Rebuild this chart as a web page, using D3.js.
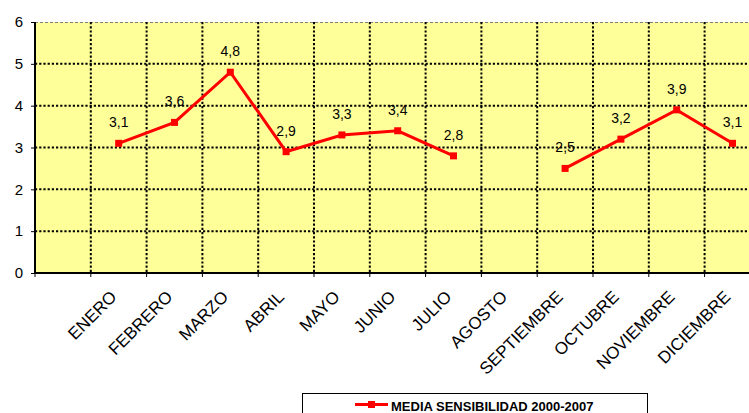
<!DOCTYPE html>
<html>
<head>
<meta charset="utf-8">
<script src="https://cdn.jsdelivr.net/npm/d3@7"></script>
<style>
  body { margin: 0; background: #fff; }
  svg { display: block; font-family: Arial, "Liberation Sans", sans-serif; }
</style>
</head>
<body>
<svg id="chart" width="749" height="413"></svg>
<script>
// first category is left empty, like in the original sheet
var months = ['', 'ENERO', 'FEBRERO', 'MARZO', 'ABRIL', 'MAYO', 'JUNIO', 'JULIO',
              'AGOSTO', 'SEPTIEMBRE', 'OCTUBRE', 'NOVIEMBRE', 'DICIEMBRE'];
var media = [null, 3.1, 3.6, 4.8, 2.9, 3.3, 3.4, 2.8, null, 2.5, 3.2, 3.9, 3.1];
var yTicks = [0, 1, 2, 3, 4, 5, 6];
var seriesName = 'MEDIA SENSIBILIDAD 2000-2007';

var W = 749, H = 413;
var plotLeft = 35, plotTop = 22, plotBottom = 273;
var band = 55.8;

var svg = d3.select('#chart');
var es = d3.formatLocale({ decimal: ',', thousands: '.', grouping: [3], currency: ['', '€'] });
var fmt = es.format('.1f');

var x = d3.scaleBand().domain(months).range([plotLeft, plotLeft + months.length * band]).padding(0);
var y = d3.scaleLinear().domain([0, 6]).range([plotBottom, plotTop]);

// plot area
svg.append('rect').attr('x', plotLeft).attr('y', plotTop)
   .attr('width', W - plotLeft).attr('height', plotBottom - plotTop)
   .attr('fill', '#ffff99');
svg.append('line').attr('x1', plotLeft).attr('x2', W).attr('y1', plotTop + 0.5).attr('y2', plotTop + 0.5)
   .attr('stroke', '#808080').attr('stroke-width', 1).attr('stroke-dasharray', '3,2');

// grid
svg.append('g').selectAll('line').data(yTicks.filter(function(d) { return d > 0 && d < 6; }))
   .enter().append('line')
   .attr('x1', plotLeft).attr('x2', W)
   .attr('y1', function(d) { return y(d); }).attr('y2', function(d) { return y(d); })
   .attr('stroke', '#000').attr('stroke-width', 2).attr('stroke-dasharray', '2.2,2');
svg.append('g').selectAll('line').data(months.slice(1))
   .enter().append('line')
   .attr('x1', function(d) { return x(d); }).attr('x2', function(d) { return x(d); })
   .attr('y1', plotTop).attr('y2', plotBottom)
   .attr('stroke', '#000').attr('stroke-width', 2).attr('stroke-dasharray', '2.2,2');

// axes
var yAxis = svg.append('g').attr('transform', 'translate(' + plotLeft + ',0)')
   .call(d3.axisLeft(y).tickValues(yTicks).tickSize(4).tickPadding(8).tickFormat(d3.format('d')));
yAxis.select('.domain').attr('stroke', '#000').attr('stroke-width', 2)
   .attr('d', 'M0,' + plotTop + 'V' + plotBottom);
yAxis.selectAll('text').attr('font-size', 15).attr('fill', '#000').attr('font-family', null);

var xAxis = svg.append('g').attr('transform', 'translate(0,' + plotBottom + ')');
xAxis.append('line').attr('x1', plotLeft).attr('x2', W).attr('stroke', '#000').attr('stroke-width', 2);
xAxis.selectAll('.tk').data(months).enter().append('line').attr('class', 'tk')
   .attr('x1', function(d) { return x(d); }).attr('x2', function(d) { return x(d); })
   .attr('y1', 0).attr('y2', 4).attr('stroke', '#000');
xAxis.selectAll('text').data(months.slice(1)).enter().append('text')
   .attr('transform', function(d) {
       return 'translate(' + (x(d) + x.bandwidth() / 2 - 1) + ',' + 25 + ') rotate(-45)';
   })
   .attr('text-anchor', 'end').attr('font-size', 17).attr('fill', '#000')
   .text(function(d) { return d; });

// series
var pts = months.map(function(m, i) { return { m: m, v: media[i] }; });
var line = d3.line()
   .defined(function(d) { return d.v != null; })
   .x(function(d) { return x(d.m) + x.bandwidth() / 2; })
   .y(function(d) { return y(d.v); });
svg.append('path').datum(pts).attr('d', line)
   .attr('fill', 'none').attr('stroke', '#ff0000').attr('stroke-width', 3).attr('stroke-linejoin', 'miter');

var ok = pts.filter(function(d) { return d.v != null; });
svg.append('g').selectAll('rect').data(ok).enter().append('rect')
   .attr('x', function(d) { return x(d.m) + x.bandwidth() / 2 - 3.5; })
   .attr('y', function(d) { return y(d.v) - 3.5; })
   .attr('width', 7).attr('height', 7).attr('fill', '#ff0000');
svg.append('g').selectAll('text').data(ok).enter().append('text')
   .attr('x', function(d) { return x(d.m) + x.bandwidth() / 2; })
   .attr('y', function(d) { return y(d.v) - 16; })
   .attr('text-anchor', 'middle').attr('font-size', 14).attr('fill', '#000')
   .text(function(d) { return fmt(d.v); });

// legend
var lg = svg.append('g');
lg.append('rect').attr('x', 302.5).attr('y', 393.5).attr('width', 345).attr('height', 30)
  .attr('fill', '#fff').attr('stroke', '#000');
lg.append('line').attr('x1', 355).attr('x2', 388).attr('y1', 404.5).attr('y2', 404.5)
  .attr('stroke', '#ff0000').attr('stroke-width', 3);
lg.append('rect').attr('x', 368).attr('y', 401).attr('width', 7).attr('height', 7).attr('fill', '#ff0000');
lg.append('text').attr('x', 391).attr('y', 411).attr('font-size', 13).attr('font-weight', 'bold')
  .attr('fill', '#000').text(seriesName);
</script>
</body>
</html>
